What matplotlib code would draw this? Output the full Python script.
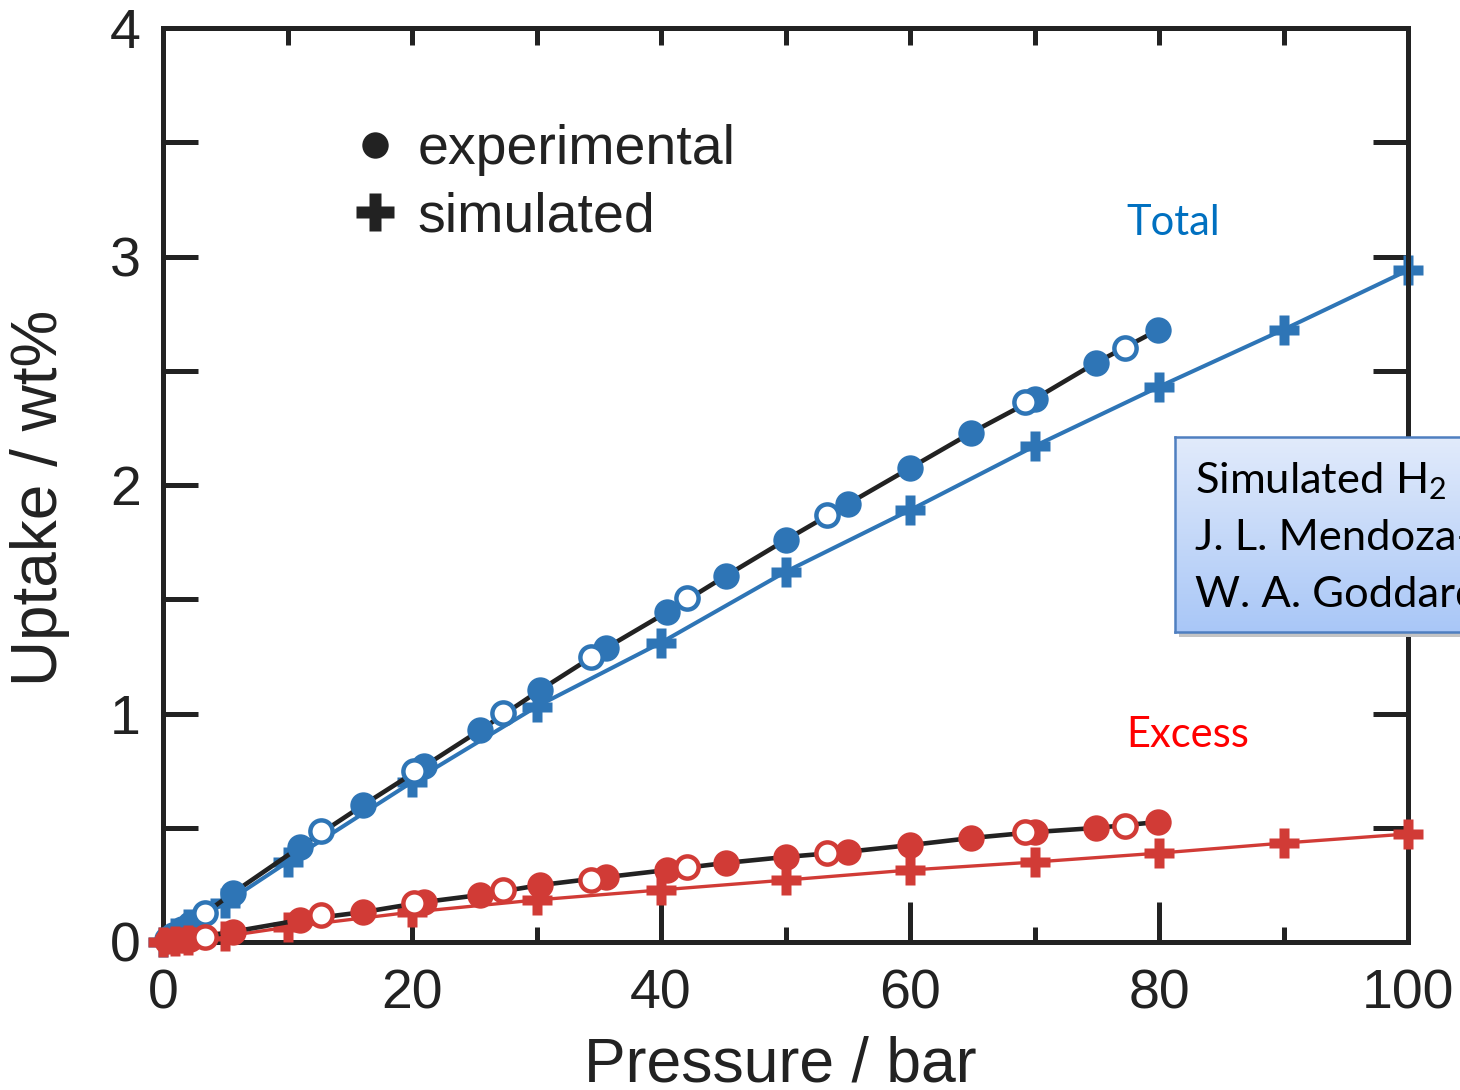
import matplotlib
matplotlib.use("Agg")
import matplotlib.pyplot as plt
from matplotlib.lines import Line2D
from matplotlib.colors import LinearSegmentedColormap
import numpy as np

# ---------------- data ----------------
p_ads = [0.3, 0.8, 1.5, 2.2, 5.6, 11.0, 16.1, 21.0, 25.5, 30.3, 35.6, 40.5, 45.2,
         50.0, 55.0, 60.0, 64.9, 70.0, 74.9, 79.9]
total_ads = [0.012, 0.03, 0.055, 0.08, 0.214, 0.416, 0.600, 0.770, 0.928, 1.103,
             1.287, 1.444, 1.602, 1.759, 1.917, 2.074, 2.228, 2.376, 2.534, 2.678]
excess_ads = [0.003, 0.006, 0.010, 0.014, 0.045, 0.096, 0.131, 0.175, 0.206, 0.249,
              0.284, 0.315, 0.346, 0.372, 0.395, 0.424, 0.455, 0.481, 0.499, 0.525]

p_des = [3.4, 12.7, 20.2, 27.3, 34.4, 42.1, 53.3, 69.2, 77.3]
total_des = [0.127, 0.486, 0.748, 1.002, 1.247, 1.505, 1.869, 2.363, 2.600]
excess_des = [0.022, 0.118, 0.171, 0.228, 0.271, 0.328, 0.389, 0.481, 0.508]

p_sim = [0, 1, 2, 5, 10, 20, 30, 40, 50, 60, 70, 80, 90, 100]
total_sim = [0.0, 0.04, 0.08, 0.17, 0.35, 0.70, 1.03, 1.31, 1.62, 1.89, 2.17, 2.43, 2.68, 2.94]
excess_sim = [0.0, 0.005, 0.01, 0.025, 0.065, 0.131, 0.184, 0.228, 0.271, 0.315, 0.350, 0.389, 0.433, 0.473]

x_major = [0, 20, 40, 60, 80, 100]
x_minor = [10, 30, 50, 70, 90]
y_major = [0, 1, 2, 3, 4]
y_minor = [0.5, 1.5, 2.5, 3.5]

legend_labels = ["experimental", "simulated"]
box_lines = ["Simulated H$_\\mathregular{2}$", "J. L. Mendoza-Cortes", "W. A. Goddard III"]

BLUE = "#2e75b6"
RED = "#d13b36"
BLACK = "#222222"
TXT = "#222222"

plt.rcParams["font.family"] = ["Liberation Sans", "DejaVu Sans"]

W, H = 1460, 1090
fig = plt.figure(figsize=(W/100, H/100), dpi=100)
ax = fig.add_axes([163/W, 1-942/H, (1408-163)/W, (942-28)/H])

ms_f = 19
ms_o = 16
ms_p = 21

# total
ax.plot(p_sim, total_sim, color=BLUE, lw=2.9, marker="P", ms=ms_p, mec="none", zorder=2)
ax.plot(p_ads, total_ads, color=BLACK, lw=3.3, zorder=3)
ax.plot(p_ads, total_ads, ls="none", marker="o", ms=ms_f, color=BLUE, mec="none", zorder=4)
ax.plot(p_des, total_des, ls="none", marker="o", ms=ms_o, mfc="white", mec=BLUE, mew=3.2, zorder=4)
# excess
ax.plot(p_sim, excess_sim, color=RED, lw=2.4, marker="P", ms=ms_p, mec="none", zorder=5)
ax.plot(p_ads, excess_ads, color=BLACK, lw=3.3, zorder=6)
ax.plot(p_ads, excess_ads, ls="none", marker="o", ms=ms_f, color=RED, mec="none", zorder=7)
ax.plot(p_des, excess_des, ls="none", marker="o", ms=ms_o, mfc="white", mec=RED, mew=3.2, zorder=7)
for ln in ax.lines:
    ln.set_clip_on(False)

ax.set_xlim(0, 100)
ax.set_ylim(0, 4)

for s in ax.spines.values():
    s.set_linewidth(3.6)
    s.set_color(BLACK)

ax.set_xticks(x_major)
ax.set_xticks(x_minor, minor=True)
ax.set_yticks(y_major)
ax.set_yticks(y_minor, minor=True)
ax.set_xticklabels([str(v) for v in x_major])
ax.set_yticklabels([str(v) for v in y_major])
ax.tick_params(axis="x", which="major", direction="in", length=29, width=3.6,
               color=BLACK, labelsize=40, labelcolor=TXT, pad=19)
ax.tick_params(axis="x", which="minor", direction="in", length=11, width=3.6, color=BLACK)
ax.tick_params(axis="y", which="both", direction="in", length=25, width=3.6,
               color=BLACK, labelsize=40, labelcolor=TXT, pad=16)

# top and right ticks
top = ax.secondary_xaxis("top")
top.set_xticks(x_minor + x_major[1:-1])
top.tick_params(direction="in", length=12, width=3.6, color=BLACK, labeltop=False)
top.spines["top"].set_linewidth(3.6)
top.spines["top"].set_color(BLACK)
right = ax.secondary_yaxis("right")
right.set_yticks(y_minor + y_major[1:-1])
right.tick_params(direction="in", length=25, width=3.6, color=BLACK, labelright=False)
right.spines["right"].set_linewidth(3.6)
right.spines["right"].set_color(BLACK)

# axis labels
fig.text(40/W, 1-498/H, "Uptake / wt%", rotation=90, ha="center", va="center",
         fontsize=46, color=TXT)
fig.text(780/W, 1-1082/H, "Pressure / bar", ha="center", va="baseline",
         fontsize=45, color=TXT)

# legend
handles = [Line2D([], [], ls="none", marker="o", ms=19, color=BLACK, mec="none"),
           Line2D([], [], ls="none", marker="P", ms=27, color=BLACK, mec="none")]
leg = ax.legend(handles, legend_labels, loc="upper left",
                bbox_to_anchor=((350-163)/1245, (942-124)/914), frameon=False,
                fontsize=40, handlelength=0.9, handletextpad=0.32, labelspacing=0.28,
                borderpad=0, borderaxespad=0)
for t in leg.get_texts():
    t.set_color(TXT)

# annotations
fig.text(1126/W, 1-235/H, "Total", fontsize=30, color="#0070c0",
         family=["Lato", "DejaVu Sans"], va="baseline", ha="left")
fig.text(1126/W, 1-747/H, "Excess", fontsize=30, color="#ff0000",
         family=["Lato", "DejaVu Sans"], va="baseline", ha="left")

# info box (extends past the right figure edge, as in the reference)
sh = fig.add_axes([1179/W, 1-637/H, 400/W, 195/H], zorder=9)
sh.set_facecolor("#c4c4c4")
sh.set_xticks([]); sh.set_yticks([])
for s in sh.spines.values():
    s.set_visible(False)

bx = fig.add_axes([1175/W, 1-632/H, 400/W, 195/H], zorder=10)
grad = np.linspace(0, 1, 256).reshape(-1, 1)
cmap = LinearSegmentedColormap.from_list("g", ["#e2ebfb", "#a9c7f7"])
bx.imshow(grad, aspect="auto", cmap=cmap, extent=[0, 1, 0, 1], origin="upper")
bx.set_xticks([])
bx.set_yticks([])
for s in bx.spines.values():
    s.set_color("#4f7fc0")
    s.set_linewidth(1.8)

for i, ln in enumerate(box_lines):
    bx.text(20/400, (632-(493+57*i))/195, ln, transform=bx.transAxes, fontsize=31.3,
            family=["Lato", "DejaVu Sans"], color="black", va="baseline", ha="left")

fig.savefig("out.png", dpi=100)
